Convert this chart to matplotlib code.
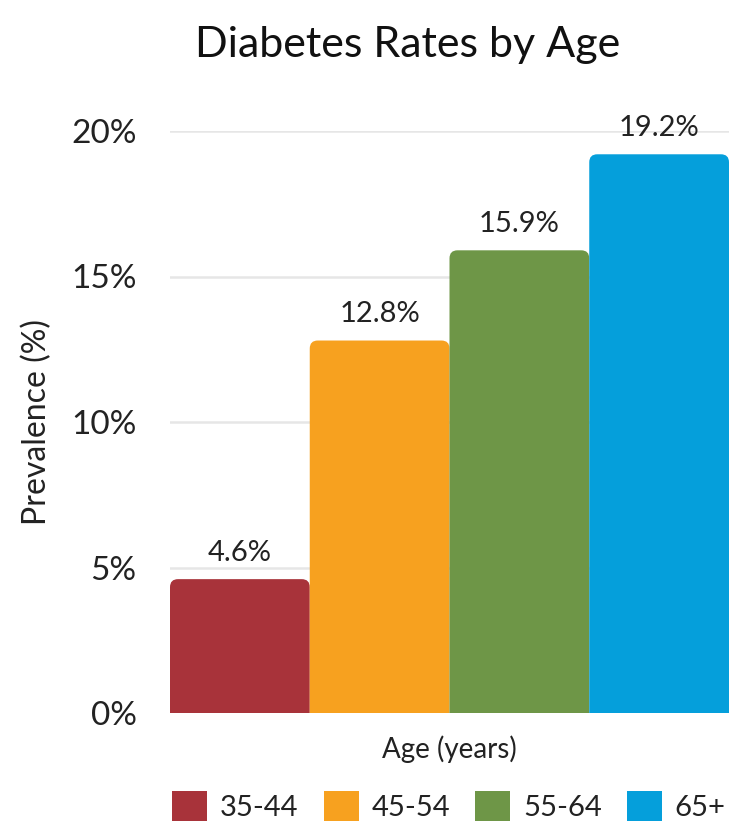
import matplotlib
matplotlib.use("Agg")
import matplotlib.pyplot as plt
from matplotlib.patches import FancyBboxPatch, Patch

plt.rcParams['font.family'] = ['Lato', 'DejaVu Sans']

age_groups = ["35-44", "45-54", "55-64", "65+"]
prevalence = [4.6, 12.8, 15.9, 19.2]
bar_colors = ["#A8333A", "#F7A11F", "#6E9647", "#059FDB"]
y_ticks = [0, 5, 10, 15, 20]
y_tick_labels = ["0%", "5%", "10%", "15%", "20%"]

W, H = 731, 825
fig = plt.figure(figsize=(W / 100, H / 100), dpi=100)
ax_l, ax_r, ax_b, ax_t = 170, 729, 112, 694  # pixel extents of the plot area
ax = fig.add_axes([ax_l / W, ax_b / H, (ax_r - ax_l) / W, (ax_t - ax_b) / H])

xmin, xmax = -0.5, len(age_groups) - 0.5
ymin, ymax = 0, 20
ax.set_xlim(xmin, xmax)
ax.set_ylim(ymin, ymax)

# rounded-top bars: radius given in pixels, converted to data units
px_x = (ax_r - ax_l) / (xmax - xmin)
px_y = (ax_t - ax_b) / (ymax - ymin)
radius_px = 8
r = radius_px / px_x
aspect = px_x / px_y

for i, (v, c) in enumerate(zip(prevalence, bar_colors)):
    box = FancyBboxPatch((i - 0.5, -2), 1.0, v + 2,
                         boxstyle=f"round,pad=0,rounding_size={r}",
                         mutation_aspect=aspect, facecolor=c,
                         edgecolor="none", zorder=3)
    ax.add_patch(box)
    ax.text(i, v + 0.45, f"{v:.1f}%", ha="center", va="bottom",
            fontsize=21, color="#222222", zorder=4)

ax.set_yticks(y_ticks)
ax.set_yticklabels(y_tick_labels, fontsize=24, color="#222222")
ax.tick_params(axis="y", length=0, pad=24)
ax.set_xticks([])
ax.grid(axis="y", color="#e6e6e6", linewidth=1.8, zorder=0)
ax.set_axisbelow(True)
for s in ax.spines.values():
    s.set_visible(False)

ax.set_ylabel("Prevalence (%)", fontsize=23, color="#222222", labelpad=14)
ax.set_xlabel("Age (years)", fontsize=20, color="#222222", labelpad=16)

fig.text(408 / W, 1 - 45 / H, "Diabetes Rates by Age", ha="center",
         va="center", fontsize=31, color="#111111")

handles = [Patch(facecolor=c, edgecolor="none") for c in bar_colors]
fig.legend(handles, age_groups, loc="center", bbox_to_anchor=(449 / W, 1 - 806 / H),
           ncol=4, frameon=False, fontsize=21, handlelength=1.2,
           handleheight=1.2, handletextpad=0.45, columnspacing=0.85,
           borderaxespad=0, borderpad=0, labelcolor="#222222")

fig.savefig("out.png", dpi=100, facecolor="white")
